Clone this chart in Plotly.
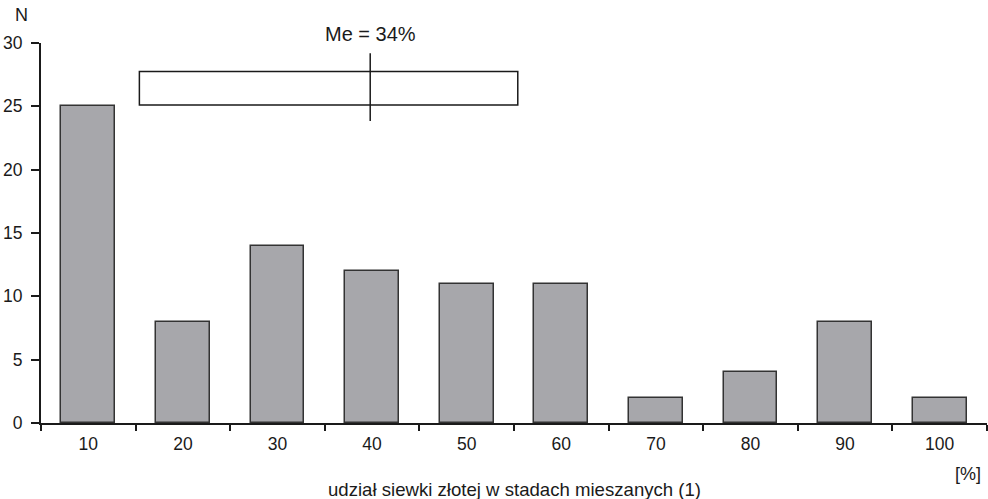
import plotly.graph_objects as go

# Data
bin_labels = ["10", "20", "30", "40", "50", "60", "70", "80", "90", "100"]
bin_centers = [5, 15, 25, 35, 45, 55, 65, 75, 85, 95]   # percent (bin midpoints)
bin_edges = [0, 10, 20, 30, 40, 50, 60, 70, 80, 90, 100]
counts = [25, 8, 14, 12, 11, 11, 2, 4, 8, 2]
y_ticks = [0, 5, 10, 15, 20, 25, 30]

# Box summary (percent)
q1 = 10.4
median = 34.8
q3 = 50.4
box_y0, box_y1 = 25.1, 27.75
med_y0, med_y1 = 23.85, 29.2

FONT = "Liberation Sans, Arial, sans-serif"
TXT = "#1a1a1a"

W, H = 988, 499
L, R, T, B = 41, 1, 43, 76
pw, ph = W - L - R, H - T - B
X_RANGE = [0, 100]


def px_to_paper(px, py):
    return (px - L) / pw, (H - B - py) / ph


fig = go.Figure()
fig.add_trace(go.Bar(
    x=bin_centers, y=counts, width=5.7,
    marker=dict(color="#a7a7ab", line=dict(color="#333333", width=1.5)),
    showlegend=False, hoverinfo="skip",
))

fig.add_shape(type="rect", xref="x", yref="y", x0=q1, x1=q3, y0=box_y0, y1=box_y1,
              line=dict(color=TXT, width=1.5), fillcolor="white")
fig.add_shape(type="line", xref="x", yref="y", x0=median, x1=median, y0=med_y0, y1=med_y1,
              line=dict(color=TXT, width=1.5))

# median label (above the plot area, so placed in paper coordinates)
_, me_y = px_to_paper(0, 34)
fig.add_annotation(x=(median - X_RANGE[0]) / (X_RANGE[1] - X_RANGE[0]), y=me_y,
                   xref="paper", yref="paper", text="Me = 34%", showarrow=False,
                   xanchor="center", yanchor="middle",
                   font=dict(size=20, color=TXT, family=FONT))

for text, px, py, sz in [("N", 21, 15, 18), ("[%]", 968, 474, 18),
                         ("udział siewki złotej w stadach mieszanych (1)", 514, 489, 18.6)]:
    xp, yp = px_to_paper(px, py)
    fig.add_annotation(x=xp, y=yp, xref="paper", yref="paper", text=text, showarrow=False,
                       xanchor="center", yanchor="middle",
                       font=dict(size=sz, color=TXT, family=FONT))

fig.update_layout(
    width=W, height=H,
    margin=dict(l=L, r=R, t=T, b=B, autoexpand=False),
    plot_bgcolor="white", paper_bgcolor="white",
    font=dict(family=FONT, size=18, color=TXT),
    bargap=0,
    xaxis=dict(
        range=X_RANGE, tickmode="array", tickvals=bin_centers, ticktext=bin_labels,
        ticks="", showgrid=False, zeroline=False,
        showline=True, linecolor=TXT, linewidth=2,
        minor=dict(tickmode="array", tickvals=bin_edges, ticks="outside",
                   ticklen=6, tickwidth=2, tickcolor=TXT, showgrid=False),
        tickfont=dict(size=17.5),
        ticklabelstandoff=4,
        fixedrange=True,
    ),
    yaxis=dict(
        range=[0, 30], tickmode="array", tickvals=y_ticks,
        ticks="outside", ticklen=8, tickwidth=1.5, tickcolor=TXT,
        showgrid=False, zeroline=False,
        showline=True, linecolor=TXT, linewidth=2,
        tickfont=dict(size=17.5),
        ticklabelstandoff=5,
        fixedrange=True,
    ),
)

fig.write_html("out.html", config={"displayModeBar": False},
               post_script="document.body.style.margin='0';document.body.style.padding='0';")
